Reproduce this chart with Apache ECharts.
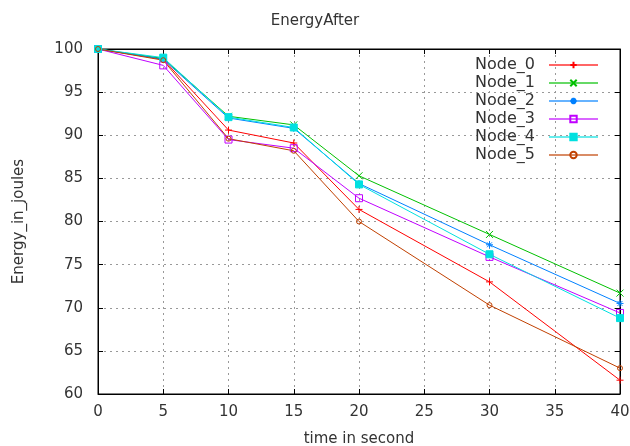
<!DOCTYPE html>
<html>
<head>
<meta charset="utf-8">
<script src="https://cdn.jsdelivr.net/npm/echarts@6/dist/echarts.min.js"></script>
<style>html,body{margin:0;padding:0;background:#fff}#c{width:630px;height:446px}</style>
</head>
<body>
<div id="c"></div>
<script>
const times = [0, 5, 10, 15, 20, 30, 40];
const seriesNames = ['Node_0', 'Node_1', 'Node_2', 'Node_3', 'Node_4', 'Node_5'];
const node0 = [100, 98.8, 90.6, 89.1, 81.4, 73.0, 61.6];
const node1 = [100, 98.9, 92.2, 91.2, 85.3, 78.5, 71.7];
const node2 = [100, 98.8, 92.0, 90.8, 84.4, 77.3, 70.5];
const node3 = [100, 98.1, 89.5, 88.5, 82.7, 75.9, 69.4];
const node4 = [100, 99.0, 92.1, 90.9, 84.3, 76.2, 68.8];
const node5 = [100, 98.7, 89.6, 88.2, 80.0, 70.3, 63.0];
const xTicks = {min: 0, max: 40, interval: 5};
const yTicks = {min: 60, max: 100, interval: 5};

const values = [node0, node1, node2, node3, node4, node5];
const colors = ['#ff0000', '#00c000', '#0080ff', '#c000ff', '#00e0e0', '#c04000'];
const symbols = [
  'path://M0,5 L10,5 M5,0 L5,10',
  'path://M0,0 L10,10 M10,0 L0,10',
  'path://M0,5 L10,5 M5,0 L5,10 M1.5,1.5 L8.5,8.5 M8.5,1.5 L1.5,8.5',
  'path://M0,0 L10,0 L10,10 L0,10 Z',
  'rect',
  'circle'
];
const sizes = [7, 7, 7, 7, 7, 5];
const fills = ['transparent', 'transparent', 'transparent', 'transparent', null, 'transparent'];

const font = 'DejaVu Sans';
const chart = echarts.init(document.getElementById('c'));
const series = seriesNames.map((n, i) => ({
  name: n,
  type: 'line',
  data: times.map((t, j) => [t, values[i][j]]),
  symbol: symbols[i],
  symbolSize: sizes[i],
  showAllSymbol: true,
  lineStyle: {color: colors[i], width: 1},
  itemStyle: {color: fills[i] || colors[i], borderColor: colors[i], borderWidth: 1},
  emphasis: {disabled: true},
  animation: false,
  z: 3
}));

const axisCommon = {
  axisLine: {show: true, onZero: false, lineStyle: {color: '#000', width: 1}},
  axisTick: {show: true, inside: true, length: 5, lineStyle: {color: '#000'}},
  axisLabel: {color: '#333', fontFamily: font, fontSize: 15},
};

chart.setOption({
  animation: false,
  backgroundColor: '#fff',
  title: {
    text: 'EnergyAfter', left: 'center', top: 9,
    textStyle: {fontFamily: font, fontSize: 15, fontWeight: 'normal', color: '#333'}
  },
  legend: {
    orient: 'vertical', right: 26, top: 52, align: 'right',
    itemWidth: 49, itemHeight: 8, itemGap: 2,
    lineStyle: {width: 2, opacity: 0.6},
    textStyle: {fontFamily: font, fontSize: 16, color: '#333', padding: [0, 9, 0, 0]},
    data: seriesNames
  },
  grid: {left: 98, right: 10, top: 49, bottom: 52, outerBoundsMode: 'none', containLabel: false, show: true, borderColor: '#000', borderWidth: 1, backgroundColor: 'transparent'},
  xAxis: [{
    type: 'value', min: xTicks.min, max: xTicks.max, interval: xTicks.interval,
    name: 'time in second', nameLocation: 'middle', nameGap: 38,
    nameTextStyle: {fontFamily: font, fontSize: 15, color: '#333'},
    ...axisCommon,
    axisLabel: {...axisCommon.axisLabel, margin: 11},
    splitLine: {show: true, lineStyle: {color: '#999', type: [2, 4], width: 1}}
  }, {
    type: 'value', position: 'top', min: xTicks.min, max: xTicks.max, interval: xTicks.interval,
    ...axisCommon, axisLabel: {show: false}, splitLine: {show: false}
  }],
  yAxis: [{
    type: 'value', min: yTicks.min, max: yTicks.max, interval: yTicks.interval,
    name: 'Energy_in_joules', nameLocation: 'middle', nameGap: 71, nameRotate: 90,
    nameTextStyle: {fontFamily: font, fontSize: 15, color: '#333'},
    ...axisCommon,
    axisLabel: {...axisCommon.axisLabel, margin: 15},
    splitLine: {show: true, lineStyle: {color: '#999', type: [2, 4], width: 1}}
  }, {
    type: 'value', position: 'right', min: yTicks.min, max: yTicks.max, interval: yTicks.interval,
    ...axisCommon, axisLabel: {show: false}, splitLine: {show: false}
  }],
  series: series
});
</script>
</body>
</html>
